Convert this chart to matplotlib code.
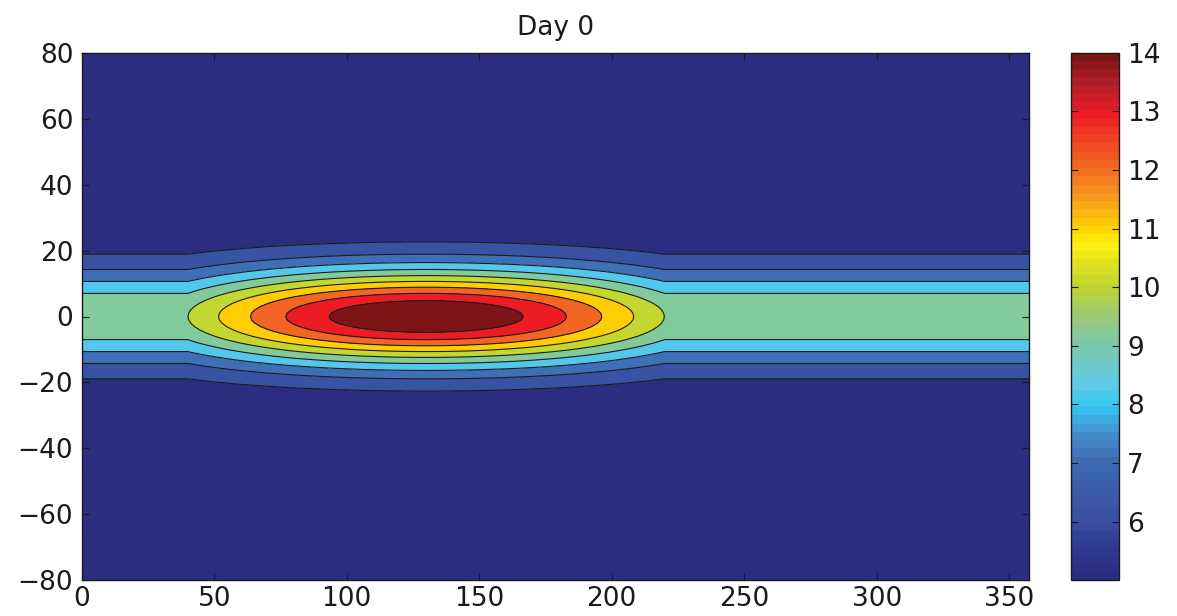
import numpy as np
import matplotlib
matplotlib.use("Agg")
import matplotlib.pyplot as plt
from matplotlib.colors import LinearSegmentedColormap, Normalize
from matplotlib.cm import ScalarMappable

# ---- data ----
title = "Day 0"
lon = np.arange(0, 360, 2.5)          # longitude grid (0 .. 357.5)
lat = np.arange(-80, 80.01, 1.0)      # latitude grid
base_value = 5.0                      # field value far from equator
background_amp = 4.99                 # equatorial excess outside the bump
bump_amp = 5.0                        # extra equatorial excess at bump centre
bump_center = 130.0                   # longitude of bump centre
bump_halfwidth = 90.0                 # bump spans 40..220
lat_efold = 14.9                      # meridional e-folding width

levels = [5, 6, 7, 8, 9, 10, 11, 12, 13, 14]
band_colors = ["#2b2e80", "#3953a4", "#3f6fb6", "#54c8ec", "#80ca9c",
               "#c2d72f", "#ffcd05", "#f26522", "#ed1c24", "#7f1416"]

cbar_values = [5.0, 5.5, 6.0, 6.5, 7.0, 7.5, 7.9, 8.0, 8.3, 8.6, 9.0, 9.5,
               10.0, 10.5, 10.75, 11.0, 11.5, 12.0, 12.5, 13.0, 13.5, 14.0]
cbar_colors = ["#2a2d7f", "#303a92", "#3a50a0", "#3b5ca9", "#3e6cb4", "#4790cc",
               "#33c5f2", "#3cc8f0", "#5ccbe8", "#6ecad0", "#7ac8ac", "#9cc978",
               "#bfd334", "#e6e51a", "#fff212", "#ffd400", "#f9a01c", "#f37021",
               "#f04822", "#ed1c24", "#b51f29", "#7d1416"]
cbar_ticks = [6, 7, 8, 9, 10, 11, 12, 13, 14]
xticks = [0, 50, 100, 150, 200, 250, 300, 350]
yticks = [-80, -60, -40, -20, 0, 20, 40, 60, 80]

# ---- field ----
X, Y = np.meshgrid(lon, lat)
d = X - bump_center
bump = np.where(np.abs(d) <= bump_halfwidth, np.cos(np.pi * d / (2 * bump_halfwidth)), 0.0)
amp = background_amp + bump_amp * bump
Z = base_value + amp * np.exp(-(Y / lat_efold) ** 2)

# ---- figure ----
plt.rcParams['font.family'] = ['DejaVu Sans']
fig = plt.figure(figsize=(11.77, 6.16), dpi=100)
W, H = 1177, 616
ax = fig.add_axes([81.7 / W, 1 - 580.3 / H, (1029 - 81.7) / W, (580.3 - 52.7) / H])

bounds = levels + [Z.max() + 1]
ax.contourf(X, Y, Z, levels=bounds, colors=band_colors)
ax.contour(X, Y, Z, levels=levels, colors="#1a1a1a", linewidths=0.8)

ax.set_xlim(lon[0], lon[-1])
ax.set_ylim(-80, 80)
ax.set_xticks(xticks)
ax.set_yticks(yticks)
ax.tick_params(direction="in", top=True, right=True, length=5, width=0.8,
               labelsize=19, pad=6, colors="#1a1a1a")
ax.tick_params(axis="x", pad=4)
for s in ax.spines.values():
    s.set_linewidth(1.0)
    s.set_color("#1a1a1a")
ax.set_title(title, fontsize=19, pad=13, color="#1a1a1a")

# colorbar
cmap_smooth = LinearSegmentedColormap.from_list(
    "cb", list(zip([(v - 5) / 9 for v in cbar_values], cbar_colors)))
cmap64 = cmap_smooth.resampled(64)
cax = fig.add_axes([1071 / W, 1 - 580.3 / H, (1119 - 1071) / W, (580.3 - 52.7) / H])
sm = ScalarMappable(norm=Normalize(5, 14), cmap=cmap64)
cb = fig.colorbar(sm, cax=cax)
cb.set_ticks(cbar_ticks)
cb.outline.set_linewidth(1.0)
cb.outline.set_edgecolor("#1a1a1a")
cax.tick_params(direction="in", left=True, right=True, length=5, width=0.8,
                labelsize=19, pad=6, colors="#1a1a1a")

fig.savefig("out.png", dpi=100)
